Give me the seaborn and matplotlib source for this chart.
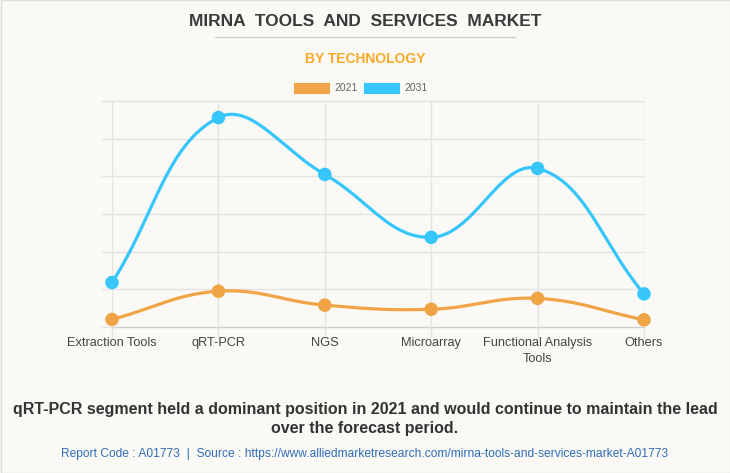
import numpy as np
import pandas as pd
import matplotlib
matplotlib.use("Agg")
import matplotlib.pyplot as plt
from matplotlib.patches import Rectangle
from matplotlib.lines import Line2D
import seaborn as sns

categories = ["Extraction Tools", "qRT-PCR", "NGS", "Microarray", "Functional Analysis\nTools", "Others"]
values_2021 = [40, 190, 116, 94, 152, 38]
values_2031 = [236, 1112, 810, 476, 842, 176]
series_names = ["2021", "2031"]
colors = {"2021": "#F0A446", "2031": "#36C6FB"}
y_ticks = [0, 200, 400, 600, 800, 1000, 1200]

sns.set_theme(style="white")
plt.rcParams["font.family"] = ["Liberation Sans", "DejaVu Sans"]

W, H = 730, 473
fig = plt.figure(figsize=(W / 100, H / 100), dpi=100)
bg = "#FAF9F5"
fig.patch.set_facecolor(bg)

L, R, T, B = 112, 644, 101, 327
ax = fig.add_axes([L / W, 1 - B / H, (R - L) / W, (B - T) / H])
ax.set_facecolor(bg)

n = len(categories)
xs = np.arange(n)
ax.set_xlim(0, n - 1)
ax.set_ylim(y_ticks[0], y_ticks[-1])

# pixel scales for Chart.js-like spline
px_x = (R - L) / (n - 1)
px_y = (B - T) / (y_ticks[-1] - y_ticks[0])


def spline(xv, yv, tension=0.4, samples=60):
    P = np.column_stack([np.asarray(xv, float) * px_x, np.asarray(yv, float) * px_y])
    m = len(P)
    cps = []
    for i in range(m):
        prev = P[i - 1] if i > 0 else P[i]
        cur = P[i]
        nxt = P[i + 1] if i < m - 1 else P[i]
        d01 = np.hypot(*(cur - prev))
        d12 = np.hypot(*(nxt - cur))
        tot = d01 + d12
        s01 = d01 / tot if tot else 0
        s12 = d12 / tot if tot else 0
        fa = tension * s01
        fb = tension * s12
        cp_prev = cur - fa * (nxt - prev)
        cp_next = cur + fb * (nxt - prev)
        cps.append((cp_prev, cp_next))
    out = []
    t = np.linspace(0, 1, samples)[:, None]
    for i in range(m - 1):
        p0, p3 = P[i], P[i + 1]
        p1, p2 = cps[i][1], cps[i + 1][0]
        seg = ((1 - t) ** 3) * p0 + 3 * ((1 - t) ** 2) * t * p1 + 3 * (1 - t) * t ** 2 * p2 + t ** 3 * p3
        out.append(seg if i == 0 else seg[1:])
    out = np.vstack(out)
    return out[:, 0] / px_x, out[:, 1] / px_y


# grid
for yt in y_ticks:
    ax.axhline(yt, color="#E4E4E4" if yt else "#CFCFCF", lw=1, zorder=0, clip_on=False)
for xt in xs:
    ax.axvline(xt, color="#E4E4E4", lw=1, zorder=0)

for name, vals in [("2021", values_2021), ("2031", values_2031)]:
    sx, sy = spline(xs, vals)
    curve = pd.DataFrame({"x": sx, "y": sy})
    sns.lineplot(data=curve, x="x", y="y", sort=False, color=colors[name], lw=2.3, ax=ax, zorder=3)
    pts = pd.DataFrame({"x": xs, "y": vals})
    sns.scatterplot(data=pts, x="x", y="y", color=colors[name], s=95, edgecolor="none", ax=ax, zorder=4, clip_on=False)

ax.set_xticks(xs)
ax.set_xticklabels(categories, fontsize=9.2, color="#444444", linespacing=1.5)
ax.set_yticks(y_ticks)
ax.set_yticklabels([])
ax.tick_params(axis="y", length=8, color="#E4E4E4", width=1, left=True)
ax.tick_params(axis="x", length=8, color="#E4E4E4", width=1, bottom=True, pad=-1)
ax.set_xlabel("")
ax.set_ylabel("")
for s in ax.spines.values():
    s.set_visible(False)

# titles
fig.text(0.5, 1 - 21 / H, "MIRNA  TOOLS  AND  SERVICES  MARKET", ha="center", va="center",
         fontsize=12.5, fontweight="bold", color="#3A3A3A")
fig.add_artist(Line2D([215 / W, 515 / W], [1 - 37 / H, 1 - 37 / H], color="#CCCCCC", lw=1))
fig.text(0.5, 1 - 59 / H, "BY TECHNOLOGY", ha="center", va="center",
         fontsize=10.0, fontweight="bold", color="#FBA92B")

# legend
for x0, name in [(293, "2021"), (363, "2031")]:
    fig.add_artist(Rectangle((x0 / W, 1 - 94 / H), 37 / W, 12 / H, facecolor=colors[name],
                             edgecolor="white", lw=0.6, transform=fig.transFigure))
    fig.text((x0 + 41) / W, 1 - 88 / H, name, ha="left", va="center", fontsize=7.5, color="#666666")

# footer
fig.text(0.5, 1 - 419 / H,
         "qRT-PCR segment held a dominant position in 2021 and would continue to maintain the lead\nover the forecast period.",
         ha="center", va="center", fontsize=11.5, fontweight="bold", color="#333333", linespacing=1.4)
fig.text(0.5, 1 - 454 / H,
         "Report Code : A01773  |  Source : https://www.alliedmarketresearch.com/mirna-tools-and-services-market-A01773",
         ha="center", va="center", fontsize=8.65, color="#2E6DB8")

fig.add_artist(Rectangle((0.5 / W, 0.5 / H), (W - 1) / W, (H - 1) / H, fill=False,
                         edgecolor="#DDDDDD", lw=1, transform=fig.transFigure))

fig.savefig("out.png", dpi=100, facecolor=bg)
